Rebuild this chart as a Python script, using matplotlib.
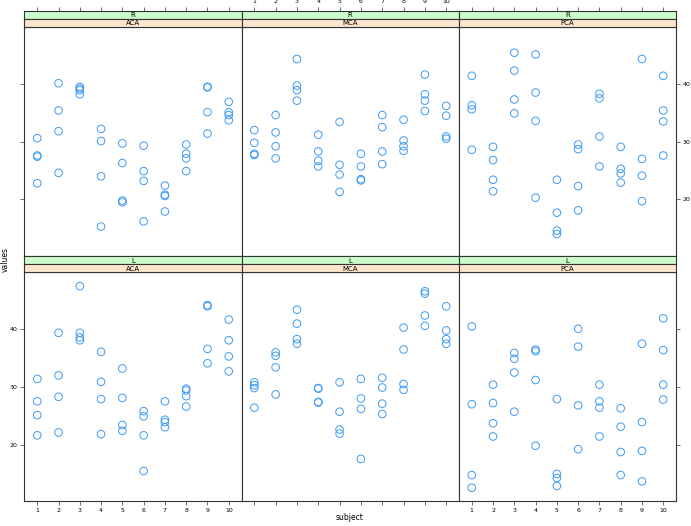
import matplotlib.pyplot as plt
import numpy as np

# four readings per subject
subjects = [1, 2, 3, 4, 5, 6, 7, 8, 9, 10]

r_aca = [[30.6, 27.6, 27.4, 22.8], [40.1, 35.4, 31.8, 24.6], [39.5, 39.2, 38.9, 38.2],
         [32.2, 30.1, 24.0, 15.3], [29.7, 26.3, 19.8, 19.5], [29.3, 24.9, 23.2, 16.2],
         [22.4, 20.8, 20.6, 17.9], [29.5, 27.9, 27.1, 24.9], [39.5, 39.4, 35.1, 31.4],
         [36.9, 35.1, 34.6, 33.7]]
r_mca = [[32.0, 29.8, 27.9, 27.7], [34.6, 31.6, 29.2, 27.1], [44.3, 39.7, 38.9, 37.1],
         [31.2, 28.3, 26.7, 25.7], [33.4, 26.0, 24.3, 21.3], [27.9, 25.7, 23.5, 23.3],
         [34.6, 32.5, 28.3, 26.1], [33.8, 30.2, 29.2, 28.4], [41.6, 38.2, 37.1, 35.3],
         [36.2, 34.5, 30.9, 30.5]]
r_pca = [[41.4, 36.3, 35.6, 28.6], [29.1, 26.8, 23.4, 21.4], [45.4, 42.3, 37.3, 34.9],
         [45.1, 38.5, 33.6, 20.3], [23.4, 17.7, 14.6, 14.0], [29.5, 28.7, 22.3, 18.1],
         [38.3, 37.5, 30.9, 25.7], [29.1, 25.3, 24.5, 22.9], [44.3, 27.0, 24.1, 19.7],
         [41.4, 35.4, 33.5, 27.6]]
l_aca = [[31.4, 27.5, 25.1, 21.6], [39.4, 32.0, 28.3, 22.1], [47.5, 39.4, 38.6, 38.1],
         [36.1, 30.9, 27.9, 21.8], [33.2, 28.1, 23.4, 22.4], [25.8, 24.9, 21.6, 15.4],
         [27.5, 24.3, 23.9, 23.0], [29.7, 29.4, 28.4, 26.6], [44.2, 44.0, 36.6, 34.1],
         [41.7, 38.1, 35.3, 32.7]]
l_mca = [[30.8, 30.3, 29.8, 26.4], [36.0, 35.4, 33.4, 28.7], [43.4, 41.0, 38.3, 37.5],
         [29.8, 29.7, 27.4, 27.3], [30.8, 25.7, 22.6, 21.9], [31.4, 28.0, 26.2, 17.5],
         [31.6, 29.9, 27.1, 25.3], [40.3, 36.5, 30.5, 29.5], [46.6, 46.2, 42.4, 40.6],
         [44.0, 39.8, 38.3, 37.5]]
l_pca = [[40.5, 27.0, 14.7, 12.5], [30.4, 27.2, 23.7, 21.4], [35.9, 34.9, 32.5, 25.7],
         [36.5, 36.2, 31.2, 19.8], [27.9, 14.9, 14.2, 12.8], [40.1, 37.0, 26.8, 19.2],
         [30.4, 27.5, 26.4, 21.4], [26.3, 23.1, 18.7, 14.7], [37.5, 23.9, 18.9, 13.6],
         [41.9, 36.4, 30.4, 27.8]]

sides = ['R', 'L']
arteries = ['ACA', 'MCA', 'PCA']
panels = [[r_aca, r_mca, r_pca], [l_aca, l_mca, l_pca]]

W, H = 691, 526
fig = plt.figure(figsize=(W / 100, H / 100), dpi=100)

def box(x0, y0, x1, y1):
    return fig.add_axes([x0 / W, 1 - y1 / H, (x1 - x0) / W, (y1 - y0) / H])

col_x = [24.5, 241.5, 459, 676]
row_y = [(26.7, 256), (272.3, 501)]
xlim = (0.4, 10.6)
ylim = (10.2, 49.9)
edge = '#333333'
tick_kw = dict(length=3, width=0.6, color='#555555', labelsize=4.5, pad=2)

for r in range(2):
    y0, y1 = row_y[r]
    for c in range(3):
        x0, x1 = col_x[c], col_x[c + 1]
        ax = box(x0, y0, x1, y1)
        for s, vals in zip(subjects, panels[r][c]):
            ax.scatter([s] * len(vals), vals, s=30, facecolors='none',
                       edgecolors='#3d9af2', linewidths=0.7)
        ax.set_xlim(xlim)
        ax.set_ylim(ylim)
        for sp in ax.spines.values():
            sp.set_color(edge)
            sp.set_linewidth(0.8)
        ax.set_xticks(subjects)
        ax.set_yticks([20, 30, 40])
        ax.tick_params(**tick_kw)
        ax.tick_params(axis='x', top=False, labeltop=False,
                       bottom=(r == 1), labelbottom=(r == 1 and c != 1))
        ax.tick_params(axis='y', left=(c == 0), labelleft=(c == 0 and r == 1),
                       right=(c == 2), labelright=(c == 2 and r == 0))

        # strips: outer variable (green) on top, inner (orange) below
        for k, (lab, fc) in enumerate([(sides[r], '#ccffcc'), (arteries[c], '#ffe5cc')]):
            sa = box(x0, y0 - 16 + 8 * k, x1, y0 - 8 + 8 * k)
            sa.set_facecolor(fc)
            sa.set_xlim(xlim)
            sa.set_ylim(0, 1)
            for sp in sa.spines.values():
                sp.set_color(edge)
                sp.set_linewidth(0.8)
            sa.text(5.5, 0.45, lab, ha='center', va='center', fontsize=5)
            sa.set_yticks([])
            if r == 0 and k == 0:
                sa.set_xticks(subjects)
                sa.tick_params(**tick_kw)
                sa.tick_params(axis='x', bottom=False, labelbottom=False,
                               top=True, labeltop=(c == 1))
            else:
                sa.set_xticks([])

fig.text(5 / W, 1 - 260 / H, 'values', rotation=90, ha='center', va='center', fontsize=5.5)
fig.text(350 / W, 1 - 518 / H, 'subject', ha='center', va='center', fontsize=5.5)

fig.savefig('out.png', dpi=100)
